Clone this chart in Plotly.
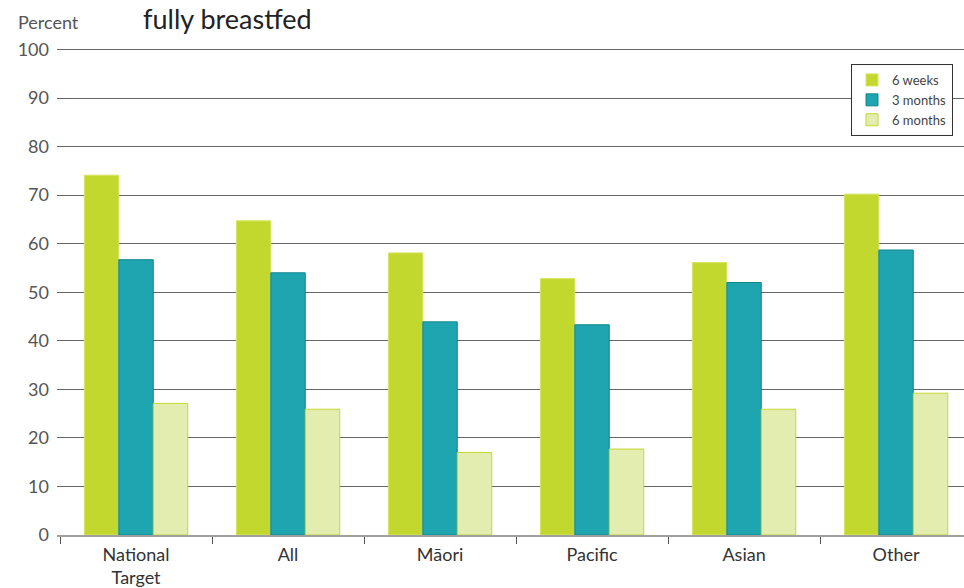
import plotly.graph_objects as go

categories = ["National<br>Target", "All", "Māori", "Pacific", "Asian", "Other"]
weeks6 = [74.1, 64.7, 58.1, 52.8, 56.1, 70.2]
months3 = [56.7, 54.0, 43.9, 43.3, 52.0, 58.7]
months6 = [27.1, 25.9, 17.0, 17.7, 25.9, 29.2]
series_names = ["6 weeks", "3 months", "6 months"]

FONT = "Lato"

fig = go.Figure()
fig.add_bar(x=categories, y=weeks6, name=series_names[0],
            marker=dict(color="#c3d82e", line=dict(color="#d6e45e", width=1)))
fig.add_bar(x=categories, y=months3, name=series_names[1],
            marker=dict(color="#1ea5b0", line=dict(color="#12878f", width=1)))
fig.add_bar(x=categories, y=months6, name=series_names[2],
            marker=dict(color="#e3edb0", line=dict(color="#c3d82e", width=1)))

fig.update_layout(
    width=964, height=588,
    margin=dict(l=57, r=0, t=48, b=53),
    paper_bgcolor="white", plot_bgcolor="white",
    barmode="group", bargap=0.32, bargroupgap=0,
    font=dict(family=FONT, color="#333333", size=17),
    showlegend=True,
    legend=dict(x=(953 - 57) / 907, y=(535 - 64) / 487, xanchor="right", yanchor="top",
                bgcolor="white", bordercolor="#333333", borderwidth=1,
                font=dict(size=13, color="#444444", family=FONT),
                itemwidth=30, tracegroupgap=0),
    xaxis=dict(range=[-0.52, 5.447], showgrid=False, showline=True,
               linecolor="#a0a0a0", linewidth=2, ticks="outside",
               tickson="boundaries", ticklen=7, tickcolor="#555555",
               ticklabelstandoff=2, automargin=False,
               tickfont=dict(size=18, color="#333333")),
    yaxis=dict(range=[0, 100.3], dtick=10, showgrid=True,
               gridcolor="#666666", gridwidth=1, zeroline=False,
               ticks="", ticklabelstandoff=7, automargin=False,
               tickfont=dict(size=18, color="#555555")),
)

fig.add_annotation(text="Percent", xref="paper", yref="paper",
                   x=0, y=1.0, xanchor="left", yanchor="bottom",
                   showarrow=False, yshift=13, xshift=-41,
                   font=dict(size=18, color="#555555", family=FONT))
fig.add_annotation(text="fully breastfed", xref="paper", yref="paper",
                   x=0, y=1.0, xanchor="left", yanchor="bottom",
                   showarrow=False, yshift=11, xshift=84,
                   font=dict(size=27, color="#222222", family=FONT))

fig.write_html(
    "out.html",
    config={"displayModeBar": False},
    post_script="document.body.style.margin='0';document.body.style.overflow='hidden';",
)
